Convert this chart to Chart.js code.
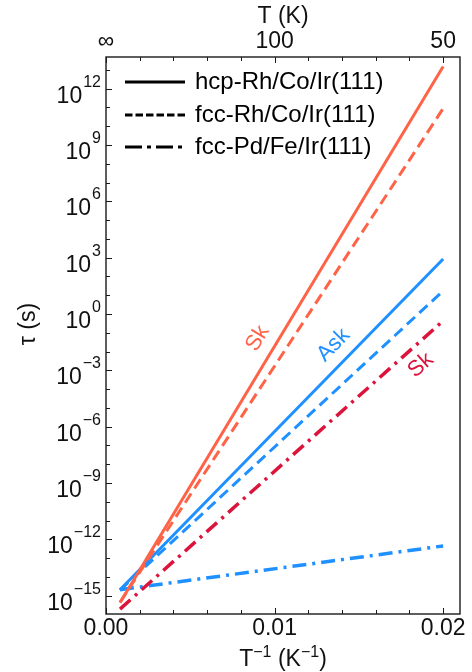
<!DOCTYPE html>
<html>
<head>
<meta charset="utf-8">
<script src="https://cdn.jsdelivr.net/npm/chart.js@4.4.1/dist/chart.umd.min.js"></script>
<style>
  body { margin: 0; background: #fff; }
  #caja { width: 472px; height: 672px; }
</style>
</head>
<body>
<div id="caja"><canvas id="grafico" width="472" height="672"></canvas></div>
<script>
// datos (x = 1/T en K^-1, y = tau en s)
const invT = [0.00083, 0.02];
const hcpRhSk = [4.3e-16, 1.5e13];
const fccRhSk = [4.5e-16, 8.7e10];
const hcpRhAsk = [2.1e-15, 8.5e2];
const fccRhAsk = [2.0e-15, 1.7e1];
const fccPdSk = [1.95e-16, 0.43];
const fccPdAsk = [2.1e-15, 4.5e-13];

// ticks
const xTicksAbajo = ['0.00', '0.01', '0.02'];
const xTicksArriba = ['∞', '100', '50'];
const yExponentes = [-15, -12, -9, -6, -3, 0, 3, 6, 9, 12];

// etiquetas sobre las lineas
const etiquetas = ['Sk', 'Ask', 'Sk'];
const etiquetasX = [0.0090, 0.0135, 0.01867];
const etiquetasY = [5e-2, 2.2e-2, 1.9e-3];

const naranjo = '#ff6347';
const azul = '#1e90ff';
const rojo = '#dc143c';
const fuente = '"Liberation Sans", Arial, sans-serif';

function puntos(ys) {
  return invT.map((x, i) => ({ x: x, y: ys[i] }));
}

const series = [
  { label: 'hcp Sk', data: puntos(hcpRhSk), borderColor: naranjo, borderDash: [] },
  { label: 'fcc Sk', data: puntos(fccRhSk), borderColor: naranjo, borderDash: [11, 6] },
  { label: 'hcp Ask', data: puntos(hcpRhAsk), borderColor: azul, borderDash: [] },
  { label: 'fcc Ask', data: puntos(fccRhAsk), borderColor: azul, borderDash: [11, 6] },
  { label: 'Pd Sk', data: puntos(fccPdSk), borderColor: rojo, borderDash: [14, 6, 3, 6], borderWidth: 3.5 },
  { label: 'Pd Ask', data: puntos(fccPdAsk), borderColor: azul, borderDash: [14, 6, 3, 6], borderWidth: 3.5 }
];
series.forEach(s => {
  s.showLine = true;
  s.pointRadius = 0;
  if (!s.borderWidth) s.borderWidth = 3;
});

// a que linea pertenece cada etiqueta (para el angulo)
const etiquetaLinea = [0, 2, 4];
const etiquetaColor = [naranjo, azul, rojo];

const leyenda = [
  { texto: 'hcp-Rh/Co/Ir(111)', dash: [] },
  { texto: 'fcc-Rh/Co/Ir(111)', dash: [7.5, 3] },
  { texto: 'fcc-Pd/Fe/Ir(111)', dash: [17, 5, 4, 5] }
];

function esMayor(v) {
  return Math.round(v / 0.002) % 5 === 0;
}

// ticks del eje x cada 0.002 (de 0 a 0.02)
function ticksX(s) {
  const t = [];
  for (let k = 0; k <= 10; k++) t.push({ value: k * 0.002 });
  s.ticks = t;
}

const dibujos = {
  id: 'dibujos',
  afterDraw(chart) {
    const { ctx, chartArea: a, scales } = chart;
    const sx = scales.x, sy = scales.y;
    ctx.save();

    // marco
    ctx.strokeStyle = '#1a1a1a';
    ctx.lineWidth = 1.4;
    ctx.strokeRect(a.left, a.top, a.right - a.left, a.bottom - a.top);

    // ticks hacia adentro, abajo y arriba
    ctx.lineWidth = 1;
    sx.ticks.forEach(t => {
      const px = Math.round(sx.getPixelForValue(t.value)) + 0.5;
      const largo = esMayor(t.value) ? 6 : 4;
      ctx.beginPath();
      ctx.moveTo(px, a.bottom); ctx.lineTo(px, a.bottom - largo);
      ctx.moveTo(px, a.top); ctx.lineTo(px, a.top + largo);
      ctx.stroke();
    });

    // ticks eje y + etiquetas 10^n
    ctx.fillStyle = '#111';
    sy.ticks.forEach(t => {
      const e = Math.round(Math.log10(t.value));
      const py = Math.round(sy.getPixelForValue(t.value)) + 0.5;
      const mayor = yExponentes.includes(e);
      ctx.beginPath();
      ctx.moveTo(a.left, py); ctx.lineTo(a.left + (mayor ? 6 : 4), py);
      ctx.stroke();
      if (mayor) {
        const exp = e < 0 ? '\u2212' + Math.abs(e) : String(e);
        ctx.textAlign = 'right';
        ctx.textBaseline = 'alphabetic';
        ctx.font = '16px ' + fuente;
        const w = ctx.measureText(exp).width;
        ctx.fillText(exp, 101, py - 3);
        ctx.font = '23px ' + fuente;
        ctx.fillText('10', 101 - w - 1, py + 13);
      }
    });

    // titulo eje y
    ctx.save();
    ctx.translate(28.5, 324);
    ctx.rotate(-Math.PI / 2);
    ctx.textAlign = 'center';
    ctx.textBaseline = 'middle';
    ctx.font = '23px ' + fuente;
    ctx.fillText('\u03c4 (s)', 0, 0);
    ctx.restore();

    // titulo eje x abajo con superindices
    const partes = [['T', 23, 0], ['\u22121', 16, -9], [' (K', 23, 0], ['\u22121', 16, -9], [')', 23, 0]];
    let ancho = 0;
    partes.forEach(p => { ctx.font = p[1] + 'px ' + fuente; ancho += ctx.measureText(p[0]).width; });
    let xx = (a.left + a.right) / 2 - ancho / 2;
    ctx.textAlign = 'left';
    ctx.textBaseline = 'alphabetic';
    partes.forEach(p => {
      ctx.font = p[1] + 'px ' + fuente;
      ctx.fillText(p[0], xx, 666 + p[2]);
      xx += ctx.measureText(p[0]).width;
    });

    // etiquetas Sk / Ask sobre las lineas
    etiquetas.forEach((txt, i) => {
      const d = series[etiquetaLinea[i]].data;
      const x1 = sx.getPixelForValue(d[0].x), y1 = sy.getPixelForValue(d[0].y);
      const x2 = sx.getPixelForValue(d[1].x), y2 = sy.getPixelForValue(d[1].y);
      const ang = Math.atan2(y2 - y1, x2 - x1);
      ctx.save();
      ctx.translate(sx.getPixelForValue(etiquetasX[i]), sy.getPixelForValue(etiquetasY[i]));
      ctx.rotate(ang);
      ctx.fillStyle = etiquetaColor[i];
      ctx.font = '22px ' + fuente;
      ctx.textAlign = 'center';
      ctx.textBaseline = 'middle';
      ctx.fillText(txt, 0, 0);
      ctx.restore();
    });

    // leyenda
    const filas = [82, 115, 147];
    leyenda.forEach((l, i) => {
      ctx.strokeStyle = '#000';
      ctx.lineWidth = 3;
      ctx.setLineDash(l.dash);
      ctx.beginPath();
      ctx.moveTo(125, filas[i]); ctx.lineTo(185, filas[i]);
      ctx.stroke();
      ctx.setLineDash([]);
      ctx.fillStyle = '#000';
      ctx.font = '24px ' + fuente;
      ctx.textAlign = 'left';
      ctx.textBaseline = 'middle';
      ctx.fillText(l.texto, 195, filas[i]);
    });

    ctx.restore();
  }
};

new Chart(document.getElementById('grafico'), {
  type: 'scatter',
  data: { datasets: series },
  plugins: [dibujos],
  options: {
    responsive: false,
    animation: false,
    devicePixelRatio: 1,
    layout: { padding: { left: 0, right: 12, top: 0, bottom: 0 } },
    plugins: { legend: { display: false }, tooltip: { enabled: false } },
    scales: {
      x: {
        type: 'linear', position: 'bottom', min: 0, max: 0.021,
        grid: { display: false, drawTicks: false },
        border: { display: false },
        ticks: {
          autoSkip: false, maxRotation: 0, padding: 1,
          color: '#111', font: { size: 23, family: fuente },
          callback: v => esMayor(v) ? xTicksAbajo[Math.round(v / 0.01)] || '' : ''
        },
        afterBuildTicks: ticksX,
        afterFit: s => { s.height = 58; }
      },
      x2: {
        type: 'linear', position: 'top', min: 0, max: 0.021, display: true,
        grid: { display: false, drawTicks: false },
        border: { display: false },
        ticks: {
          autoSkip: false, maxRotation: 0, padding: 2,
          color: '#111', font: { size: 23, family: fuente },
          callback: v => esMayor(v) ? xTicksArriba[Math.round(v / 0.01)] || '' : ''
        },
        afterBuildTicks: ticksX,
        title: { display: true, text: 'T (K)', color: '#111', font: { size: 23, family: fuente }, padding: { top: 3, bottom: 0 } },
        afterFit: s => { s.height = 57; }
      },
      y: {
        type: 'logarithmic', min: 1.07e-16, max: 4.8e13,
        grid: { display: false, drawTicks: false },
        border: { display: false },
        ticks: { display: false },
        afterBuildTicks: s => {
          const t = [];
          for (let e = -15; e <= 13; e++) t.push({ value: Math.pow(10, e) });
          s.ticks = t;
        },
        afterFit: s => { s.width = 106; }
      }
    }
  }
});
</script>
</body>
</html>
